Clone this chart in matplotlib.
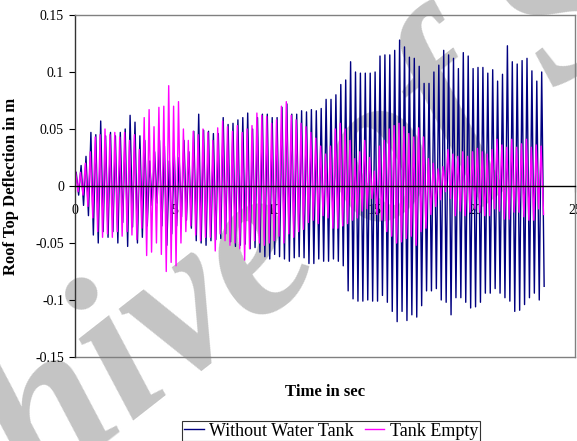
"""Roof top deflection time history: bare frame vs. frame with empty tank."""
import numpy as np
import matplotlib
matplotlib.use('Agg')
import matplotlib.pyplot as plt

plt.rcParams.update({
    'font.family': ['Liberation Serif', 'DejaVu Serif'],
    'font.size': 10,
    'axes.linewidth': 1.0,
})

# record sampled at peaks/troughs, one cycle every PERIOD seconds
PERIOD = 0.245
BLUE_T0 = 0.06
PINK_T0 = 0.03

# Without Water Tank: peak / trough of each cycle (m)
blue_peaks = [
    0.012, 0.018, 0.026, 0.047, 0.045, 0.057, 0.044, 0.047, 0.044, 0.047,
    0.050, 0.062, 0.056, 0.044, 0.040, 0.022, 0.030, 0.040, 0.035, 0.022,
    0.030, 0.025, 0.040, 0.030, 0.048, 0.063, 0.049, 0.048, 0.046, 0.046,
    0.060, 0.054, 0.055, 0.058, 0.060, 0.064, 0.050, 0.060, 0.063, 0.063,
    0.060, 0.060, 0.069, 0.072, 0.063, 0.063, 0.066, 0.065, 0.067, 0.066,
    0.068, 0.076, 0.076, 0.080, 0.089, 0.093, 0.109, 0.100, 0.099, 0.099,
    0.099, 0.100, 0.114, 0.115, 0.115, 0.119, 0.128, 0.122, 0.113, 0.112,
    0.105, 0.090, 0.090, 0.100, 0.106, 0.119, 0.115, 0.112, 0.103, 0.117,
    0.114, 0.103, 0.104, 0.104, 0.099, 0.102, 0.092, 0.098, 0.123, 0.109,
    0.107, 0.110, 0.112, 0.101, 0.092, 0.100,
]
blue_troughs = [
    -0.008, -0.017, -0.026, -0.043, -0.050, -0.040, -0.045, -0.040, -0.050, -0.032,
    -0.053, -0.036, -0.050, -0.045, -0.035, -0.017, -0.015, -0.035, -0.052, -0.042,
    -0.035, -0.027, -0.030, -0.037, -0.048, -0.050, -0.052, -0.048, -0.047, -0.046,
    -0.042, -0.049, -0.053, -0.052, -0.051, -0.055, -0.054, -0.058, -0.062, -0.064,
    -0.060, -0.062, -0.064, -0.066, -0.063, -0.062, -0.063, -0.068, -0.068, -0.064,
    -0.066, -0.066, -0.064, -0.066, -0.070, -0.092, -0.099, -0.101, -0.101, -0.100,
    -0.101, -0.101, -0.096, -0.102, -0.110, -0.119, -0.110, -0.118, -0.113, -0.115,
    -0.105, -0.092, -0.092, -0.090, -0.100, -0.102, -0.113, -0.098, -0.098, -0.102,
    -0.107, -0.106, -0.102, -0.094, -0.094, -0.090, -0.094, -0.098, -0.101, -0.110,
    -0.109, -0.104, -0.098, -0.094, -0.100, -0.088,
]

# Tank Empty: peak / trough of each cycle (m)
pink_peaks = [
    0.013, 0.012, 0.020, 0.030, 0.043, 0.045, 0.050, 0.045, 0.047, 0.043,
    0.047, 0.040, 0.045, 0.032, 0.060, 0.067, 0.052, 0.069, 0.070, 0.088,
    0.070, 0.074, 0.050, 0.040, 0.048, 0.045, 0.050, 0.047, 0.040, 0.051,
    0.057, 0.052, 0.048, 0.053, 0.047, 0.050, 0.053, 0.064, 0.062, 0.061,
    0.055, 0.058, 0.070, 0.074, 0.062, 0.058, 0.055, 0.052, 0.047, 0.042,
    0.035, 0.028, 0.035, 0.050, 0.055, 0.050, 0.040, 0.024, 0.030, 0.040,
    0.025, 0.013, 0.035, 0.040, 0.050, 0.053, 0.055, 0.052, 0.046, 0.043,
    0.051, 0.043, 0.024, 0.020, 0.015, 0.017, 0.032, 0.028, 0.026, 0.030,
    0.026, 0.030, 0.033, 0.030, 0.028, 0.032, 0.041, 0.036, 0.034, 0.041,
    0.034, 0.037, 0.041, 0.034, 0.036, 0.035,
]
pink_troughs = [
    -0.005, -0.008, -0.018, -0.028, -0.040, -0.045, -0.042, -0.045, -0.040, -0.044,
    -0.040, -0.043, -0.047, -0.037, -0.061, -0.058, -0.050, -0.060, -0.075, -0.067,
    -0.070, -0.050, -0.040, -0.035, -0.043, -0.048, -0.045, -0.045, -0.057, -0.042,
    -0.048, -0.052, -0.050, -0.055, -0.065, -0.055, -0.048, -0.050, -0.052, -0.050,
    -0.048, -0.044, -0.050, -0.042, -0.045, -0.040, -0.038, -0.032, -0.030, -0.033,
    -0.026, -0.028, -0.037, -0.037, -0.035, -0.033, -0.030, -0.028, -0.022, -0.020,
    -0.011, -0.025, -0.030, -0.040, -0.044, -0.050, -0.049, -0.046, -0.044, -0.052,
    -0.040, -0.037, -0.025, -0.018, -0.012, -0.005, -0.011, -0.026, -0.022, -0.026,
    -0.023, -0.020, -0.023, -0.026, -0.026, -0.020, -0.022, -0.029, -0.029, -0.023,
    -0.023, -0.027, -0.030, -0.030, -0.020, -0.025,
]

x_ticks = [0, 5, 10, 15, 20, 25]
y_ticks = [-0.15, -0.1, -0.05, 0, 0.05, 0.1, 0.15]
y_tick_labels = ['-0.15', '-0.1', '-0.05', '0', '0.05', '0.1', '0.15']


def build_series(peaks, troughs, t0):
    """Interleave peaks and troughs into one zig-zag record starting at rest."""
    y = np.empty(2 * len(peaks))
    y[0::2] = peaks
    y[1::2] = troughs
    t = t0 + 0.5 * PERIOD * np.arange(len(y))
    return np.concatenate([[0.0], t]), np.concatenate([[0.0], y])


fig = plt.figure(figsize=(5.77, 4.41), dpi=100)
ax = fig.add_axes([75 / 577, 1 - 357 / 441, 500 / 577, 342 / 441])
ax.patch.set_alpha(0)

# scanned-page watermark sitting behind the plot
fig.text(-216 / 577, 1 - 704 / 441, 'Archive of SID', fontsize=155,
         fontweight='bold', fontstyle='italic', color='#c4c4c4',
         rotation=38, rotation_mode='anchor', ha='left', va='baseline',
         zorder=-5)

tb, yb = build_series(blue_peaks, blue_troughs, BLUE_T0)
tp, yp = build_series(pink_peaks, pink_troughs, PINK_T0)
ax.plot(tb, yb, color='#000080', linewidth=1.0, label='Without Water Tank')
ax.plot(tp, yp, color='#ff00ff', linewidth=1.0, label='Tank Empty')

ax.set_xlim(0, 25)
ax.set_ylim(-0.15, 0.15)
ax.set_xticks(x_ticks)
ax.set_yticks(y_ticks)
ax.set_yticklabels(y_tick_labels)

# excel style: x axis crosses at zero, grey plot-area border
ax.spines['bottom'].set_position(('data', 0))
ax.spines['bottom'].set_color('black')
ax.spines['left'].set_color('#333333')
for side in ('top', 'right'):
    ax.spines[side].set_color('#808080')
ax.axhline(-0.15, color='#808080', linewidth=1.0, clip_on=False)
ax.tick_params(axis='x', direction='out', length=4, pad=9, labelsize=10)
ax.tick_params(axis='y', direction='out', length=4, pad=4, labelsize=10)

ax.set_ylabel('Roof Top Deflection in m', fontsize=12, fontweight='bold')
ax.yaxis.set_label_coords(-0.112, 0.5)
fig.text(325 / 577, 1 - 392 / 441, 'Time in sec', fontsize=12,
         fontweight='bold', ha='center', va='center')

leg = fig.legend(loc='center', bbox_to_anchor=(331 / 577, 1 - 431 / 441),
                 ncol=2, fontsize=13, frameon=True, fancybox=False,
                 edgecolor='black', handlelength=1.1, handletextpad=0.3,
                 columnspacing=0.6, borderpad=0.1, borderaxespad=0)
leg.get_frame().set_linewidth(0.8)

fig.savefig('out.png', dpi=100)
